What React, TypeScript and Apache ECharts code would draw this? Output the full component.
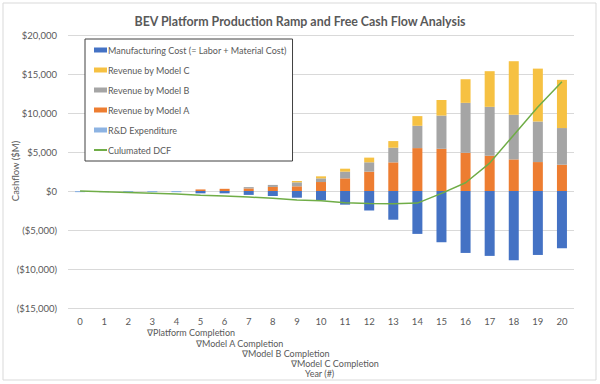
import React, { useEffect, useRef } from "react";
import * as echarts from "echarts";

const years = ["0","1","2","3","4","5","6","7","8","9","10","11","12","13","14","15","16","17","18","19","20"];
const rdExpenditure = [-150, -150, -150, -150, -150, 0, 0, 0, 0, 0, 0, 0, 0, 0, 0, 0, 0, 0, 0, 0, 0];
const revenueA = [0, 0, 0, 0, 0, 200, 280, 330, 520, 600, 1150, 1620, 2480, 3670, 5500, 5410, 4900, 4520, 4050, 3710, 3370];
const revenueB = [0, 0, 0, 0, 0, 0, 0, 170, 260, 510, 470, 860, 1200, 1880, 2860, 4260, 6400, 6270, 5720, 5200, 4700];
const revenueC = [0, 0, 0, 0, 0, 0, 0, 0, 0, 170, 260, 380, 600, 850, 1240, 2000, 3030, 4570, 6870, 6780, 6180];
const manufacturing = [0, 0, 0, 0, 0, -300, -300, -500, -640, -860, -1200, -1750, -2500, -3680, -5500, -6570, -7940, -8320, -8880, -8200, -7340];
const cumulatedDCF = [0, -100, -200, -300, -400, -530, -650, -780, -930, -1150, -1250, -1500, -1600, -1650, -1550, -300, 1060, 3580, 7170, 10760, 14000];
const yTicks = { min: -15000, max: 20000, interval: 5000 };
const milestoneLabels = ["∇Platform Completion", "∇Model A Completion", "∇Model B Completion", "∇Model C Completion"];

const FONT = "Lato, 'Liberation Sans', sans-serif";
const GREY = "#595959";

function fmt(v: number) {
  const s = "$" + Math.abs(v).toLocaleString("en-US");
  return v < 0 ? "(" + s + ")" : s;
}

export default function App() {
  const ref = useRef<HTMLDivElement>(null);
  useEffect(() => {
    if (!ref.current) return;
    const chart = echarts.init(ref.current, null, { renderer: "svg" });
    const names = {
      mf: "Manufacturing Cost (= Labor + Material Cost)",
      c: "Revenue by Model C",
      b: "Revenue by Model B",
      a: "Revenue by Model A",
      rd: "R&D Expenditure",
      dcf: "Culumated DCF",
    };
    const barBase = { type: "bar", stack: "cf", barWidth: 10 };
    const milestonePos = [
      [147, 332],
      [196, 343],
      [242, 353.5],
      [291, 363.5],
    ];
    chart.setOption({
      animation: false,
      title: {
        text: "BEV Platform Production Ramp and Free Cash Flow Analysis",
        left: "center",
        top: 10,
        textStyle: { fontFamily: FONT, fontSize: 12.4, fontWeight: "bold", color: GREY },
      },
      legend: {
        orient: "vertical",
        left: 85,
        top: 39,
        padding: [5, 6, 5, 8],
        itemGap: 8,
        itemWidth: 13,
        itemHeight: 5,
        borderColor: "#404040",
        borderWidth: 1,
        backgroundColor: "#fff",
        textStyle: { fontFamily: FONT, fontSize: 9, color: GREY, lineHeight: 12, padding: [0, 0, 0, -4] },
        data: [
          { name: names.mf, icon: "rect" },
          { name: names.c, icon: "rect" },
          { name: names.b, icon: "rect" },
          { name: names.a, icon: "rect" },
          { name: names.rd, icon: "rect" },
          { name: names.dcf, itemStyle: { opacity: 0 } },
        ],
      },
      grid: { left: 68, right: 26, top: 35, bottom: 76, outerBoundsMode: "none", containLabel: false },
      xAxis: {
        type: "category",
        data: years,
        axisLine: { show: false, onZero: false },
        axisTick: { show: false },
        axisLabel: { fontFamily: FONT, fontSize: 9.5, color: GREY, margin: 8 },
      },
      yAxis: {
        type: "value",
        min: yTicks.min,
        max: yTicks.max,
        interval: yTicks.interval,
        axisLine: { show: false },
        axisTick: { show: false },
        axisLabel: { fontFamily: FONT, fontSize: 9.5, color: GREY, margin: 11, formatter: fmt },
        splitLine: { lineStyle: { color: "#d9d9d9", width: 1 } },
      },
      graphic: [
        {
          type: "rect",
          shape: { x: 3, y: 3, width: 593, height: 377 },
          style: { fill: "none", stroke: "#d9d9d9", lineWidth: 1 },
          silent: true,
          z: -10,
        },
        {
          type: "text",
          x: 15,
          y: 171,
          rotation: Math.PI / 2,
          style: {
            text: "Cashflow ($M)",
            fontFamily: FONT,
            fontSize: 9.5,
            fill: GREY,
            align: "center",
            verticalAlign: "middle",
          },
        },
        ...milestoneLabels.map((t, i) => ({
          type: "text",
          x: milestonePos[i][0],
          y: milestonePos[i][1],
          style: { text: t, fontFamily: FONT, fontSize: 9, fill: GREY, verticalAlign: "middle" },
        })),
        {
          type: "text",
          x: 305,
          y: 373.5,
          style: { text: "Year (#)", fontFamily: FONT, fontSize: 9, fill: GREY, verticalAlign: "middle" },
        },
      ],
      series: [
        { ...barBase, name: names.rd, data: rdExpenditure, itemStyle: { color: "#8db3e2" } },
        { ...barBase, name: names.a, data: revenueA, itemStyle: { color: "#ED7D31" } },
        { ...barBase, name: names.b, data: revenueB, itemStyle: { color: "#A5A5A5" } },
        { ...barBase, name: names.c, data: revenueC, itemStyle: { color: "#F6C142" } },
        { ...barBase, name: names.mf, data: manufacturing, itemStyle: { color: "#4472C4" } },
        {
          type: "line",
          name: names.dcf,
          data: cumulatedDCF,
          symbol: "none",
          lineStyle: { color: "#70AD47", width: 1.5 },
          itemStyle: { color: "#70AD47" },
          z: 5,
        },
      ],
    });
    return () => chart.dispose();
  }, []);
  return (
    <div
      ref={ref}
      style={{ position: "fixed", left: 0, top: 0, width: 600, height: 384, background: "#fff" }}
    />
  );
}
